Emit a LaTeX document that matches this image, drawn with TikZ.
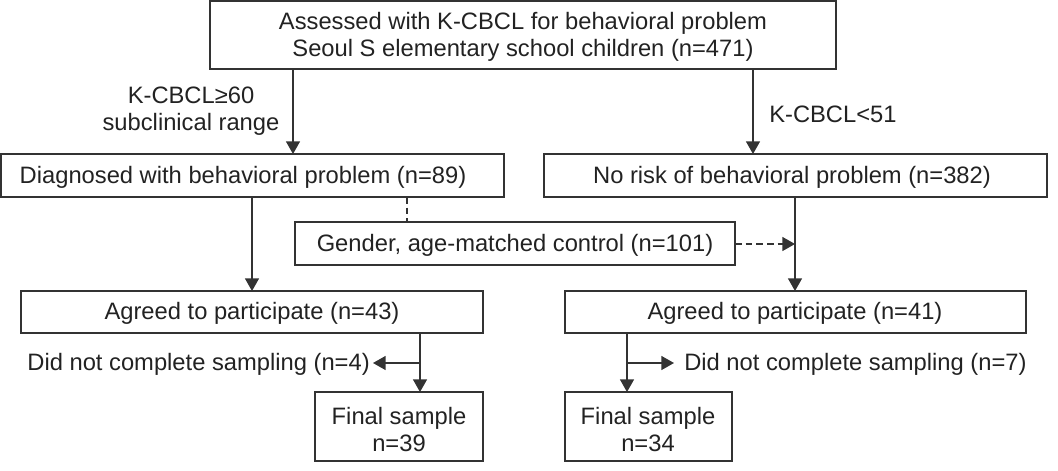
\documentclass[tikz,border=0pt]{standalone}
\usepackage{fontspec}
\setmainfont{Liberation Sans}
\usetikzlibrary{arrows.meta}
\definecolor{ink}{HTML}{222222}
\definecolor{edge}{HTML}{333333}
\begin{document}
\begin{tikzpicture}[x=0.75pt,y=-0.75pt,
  every node/.style={font=\fontsize{17.8}{20.25}\selectfont, text=ink},
  boxstyle/.style={draw=edge, line width=1.1pt},
  conn/.style={draw=edge, line width=1.1pt, -{Triangle[length=9.5pt,width=10.5pt]}},
  plainline/.style={draw=edge, line width=1.1pt},
  dashconn/.style={draw=edge, line width=1.1pt, dash pattern=on 5pt off 3pt, -{Triangle[length=9.5pt,width=10.5pt]}},
  lbl/.style={inner sep=0pt, align=center}]
\useasboundingbox (0,0) rectangle (1058,471);
% boxes
\draw[boxstyle] (210,1) rectangle (836,69);
\node[lbl] (top) at (523,37) {Assessed with K-CBCL for behavioral problem\\Seoul S elementary school children (n=471)};
\coordinate (topL) at (293,69);
\coordinate (topR) at (753,69);

\draw[boxstyle] (1,154) rectangle (504,197);
\node[lbl] (diag) at (243,177) {Diagnosed with behavioral problem (n=89)};
\coordinate (diagT) at (293,154);
\coordinate (diagB) at (252,197);
\coordinate (diagD) at (407,197);

\draw[boxstyle] (544,154) rectangle (1047,197);
\node[lbl] (norisk) at (792,177) {No risk of behavioral problem (n=382)};
\coordinate (noriskT) at (753,154);
\coordinate (noriskB) at (795,197);

\draw[boxstyle] (295,222) rectangle (735,265);
\node[lbl] (gender) at (515,245) {Gender, age-matched control (n=101)};
\coordinate (genderT) at (407,222);
\coordinate (genderR) at (735,244);
\coordinate (join) at (795,244);

\draw[boxstyle] (21,291) rectangle (483,333);
\node[lbl] (ag43) at (252,313.5) {Agreed to participate (n=43)};
\coordinate (ag43T) at (252,291);
\coordinate (ag43B) at (420,333);

\draw[boxstyle] (565,291) rectangle (1026,333);
\node[lbl] (ag41) at (795,313.5) {Agreed to participate (n=41)};
\coordinate (ag41T) at (795,291);
\coordinate (ag41B) at (627,333);

\draw[boxstyle] (315,392) rectangle (483,461);
\node[lbl] (fin39) at (399,429.5) {Final sample\\n=39};
\coordinate (fin39T) at (420,392);

\draw[boxstyle] (565,392) rectangle (732,461);
\node[lbl] (fin34) at (648,429.5) {Final sample\\n=34};
\coordinate (fin34T) at (627,392);

% side labels
\node[lbl] (c60) at (191,111.5) {K-CBCL≥60\\subclinical range};
\node[lbl, anchor=west] (c51) at (769,114.5) {K-CBCL<51};
\node[lbl, anchor=east] (dnc4) at (370,364.5) {Did not complete sampling (n=4)};
\node[lbl, anchor=west] (dnc7) at (684,364.5) {Did not complete sampling (n=7)};
\coordinate (br4) at (420,363);
\coordinate (br7) at (627,363);
\coordinate (tip4) at (373,363);
\coordinate (tip7) at (674,363);

% connectors
\draw[conn] (topL) -- (diagT);
\draw[conn] (topR) -- (noriskT);
\draw[conn] (diagB) -- (ag43T);
\draw[conn] (noriskB) -- (ag41T);
\draw[plainline, dash pattern=on 5pt off 3pt] (diagD) -- (genderT);
\draw[dashconn] (genderR) -- (join);
\draw[conn] (ag43B) -- (fin39T);
\draw[conn] (br4) -- (tip4);
\draw[conn] (ag41B) -- (fin34T);
\draw[conn] (br7) -- (tip7);
\end{tikzpicture}
\end{document}
